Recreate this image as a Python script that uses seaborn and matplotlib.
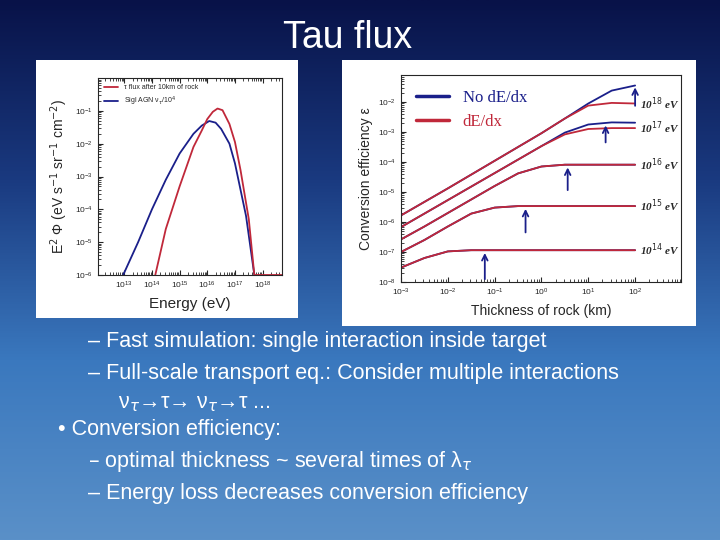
import numpy as np
import pandas as pd
import matplotlib
matplotlib.use("Agg")
import matplotlib.pyplot as plt
import seaborn as sns

sns.set_style("ticks")
plt.rcParams['font.family'] = ['Liberation Sans', 'DejaVu Sans']

# ---- left panel data (log10 E, log10 flux)
red_logE = [14.12, 14.5, 15.0, 15.5, 15.8, 16.0, 16.2, 16.37, 16.55, 16.8, 17.0, 17.2, 17.5, 17.7, 18.7]
red_logF = [-6.0, -4.6, -3.3, -2.1, -1.6, -1.25, -1.03, -0.93, -0.98, -1.4, -1.95, -2.8, -4.3, -6.0, -6.0]
blue_logE = [12.96, 13.5, 14.0, 14.5, 15.0, 15.5, 15.8, 16.07, 16.3, 16.5, 16.8, 17.0, 17.4, 17.7]
blue_logF = [-6.0, -5.0, -4.0, -3.1, -2.3, -1.7, -1.45, -1.31, -1.36, -1.55, -2.0, -2.6, -4.2, -6.0]

# ---- right panel data (log10 thickness km, log10 efficiency)
thick_log = [-3, -2.5, -2, -1.5, -1, -0.5, 0, 0.5, 1, 1.5, 2]
energies = ["14", "15", "16", "17", "18"]
eff_red = {
    "14": [-7.52, -7.2, -6.98, -6.94, -6.94, -6.94, -6.94, -6.94, -6.94, -6.94, -6.94],
    "15": [-7.0, -6.6, -6.15, -5.72, -5.52, -5.47, -5.47, -5.47, -5.47, -5.47, -5.47],
    "16": [-6.58, -6.15, -5.7, -5.25, -4.8, -4.38, -4.15, -4.09, -4.09, -4.09, -4.09],
    "17": [-6.17, -5.72, -5.27, -4.82, -4.37, -3.92, -3.47, -3.08, -2.9, -2.87, -2.87],
    "18": [-5.78, -5.33, -4.88, -4.42, -3.96, -3.5, -3.04, -2.55, -2.12, -2.03, -2.05],
}
eff_blue = {
    "14": eff_red["14"], "15": eff_red["15"], "16": eff_red["16"],
    "17": [-6.17, -5.72, -5.27, -4.82, -4.37, -3.92, -3.47, -3.02, -2.75, -2.68, -2.69],
    "18": [-5.78, -5.33, -4.88, -4.42, -3.96, -3.5, -3.04, -2.55, -2.05, -1.62, -1.45],
}
arrow_x = [-1.21, -0.34, 0.56, 1.37, 2.0]
arrow_y0 = [-8.0, -6.44, -5.03, -3.44, -2.22]
arrow_y1 = [-6.94, -5.47, -4.09, -2.69, -1.42]

W, H = 720, 540
fig = plt.figure(figsize=(7.2, 5.4), dpi=100)

def rect(l, t, r, b):
    return [l / W, 1 - b / H, (r - l) / W, (b - t) / H]

bg = fig.add_axes([0, 0, 1, 1])
grad = np.linspace(0, 1, 256)[:, None]
cmap = matplotlib.colors.LinearSegmentedColormap.from_list("bg", ["#081248", "#1a3a80", "#3a78be", "#5a90c8"])
bg.imshow(grad, aspect="auto", cmap=cmap, extent=[0, 1, 0, 1], origin="upper")
bg.axis("off")

fig.text(348 / W, 1 - 38 / H, "Tau flux", color="white", fontsize=27, ha="center", va="center")

for r in [rect(36, 60, 298, 318), rect(342, 60, 696, 326)]:
    p = fig.add_axes(r)
    p.set_facecolor("white")
    p.set_xticks([]); p.set_yticks([])
    for s in p.spines.values():
        s.set_visible(False)

ax1 = fig.add_axes(rect(98, 78, 282, 275))
ax1.set_facecolor("white")
dl = pd.DataFrame({"E": 10 ** np.array(red_logE), "F": 10 ** np.array(red_logF)})
db = pd.DataFrame({"E": 10 ** np.array(blue_logE), "F": 10 ** np.array(blue_logF)})
sns.lineplot(data=db, x="E", y="F", ax=ax1, color="#1a1f8a", lw=1.3, label="Sigl AGN ν$_τ$/10$^4$")
sns.lineplot(data=dl, x="E", y="F", ax=ax1, color="#c0283a", lw=1.3, label="τ flux after 10km of rock")
ax1.set_xscale("log"); ax1.set_yscale("log")
ax1.set_xlim(10 ** 12.05, 10 ** 18.7)
ax1.set_ylim(1e-6, 10 ** 0.0)
ax1.set_xticks([10.0 ** k for k in range(13, 19)])
ax1.set_yticks([10.0 ** k for k in range(-6, 0)])
ax1.tick_params(labelsize=6, direction="in", which="both", top=True, right=False)
ax1.set_xlabel("Energy (eV)", fontsize=11)
ax1.set_ylabel("E$^2$ Φ (eV s$^{-1}$ sr$^{-1}$ cm$^{-2}$)", fontsize=10)
h, l = ax1.get_legend_handles_labels()
ax1.legend(h[::-1], l[::-1], loc="upper left", fontsize=5, frameon=False)

ax2 = fig.add_axes(rect(401, 75, 681, 282))
ax2.set_facecolor("white")
for e in energies:
    d = pd.DataFrame({"x": 10 ** np.array(thick_log, float), "y": 10 ** np.array(eff_blue[e])})
    sns.lineplot(data=d, x="x", y="y", ax=ax2, color="#1a1f8a", lw=1.3)
for e in energies:
    d = pd.DataFrame({"x": 10 ** np.array(thick_log, float), "y": 10 ** np.array(eff_red[e])})
    sns.lineplot(data=d, x="x", y="y", ax=ax2, color="#c0283a", lw=1.3)
    ax2.text(10 ** 2.1, 10 ** eff_red[e][-1], f"10$^{{{e}}}$ eV", fontsize=8, style="italic",
             weight="bold", family="Liberation Serif", va="center", ha="left")
for xa, y0, y1 in zip(arrow_x, arrow_y0, arrow_y1):
    ax2.annotate("", xy=(10 ** xa, 10 ** y1), xytext=(10 ** xa, 10 ** y0),
                 arrowprops=dict(arrowstyle="->", color="#1a1f8a", lw=1.3))
ax2.plot([], [], color="#1a1f8a", lw=2.5, label="No dE/dx")
ax2.plot([], [], color="#c0283a", lw=2.5, label="dE/dx")
leg = ax2.legend(loc="upper left", frameon=False, prop={"family": "Liberation Serif", "size": 12})
for t, c in zip(leg.get_texts(), ["#1a1f8a", "#c0283a"]):
    t.set_color(c)
ax2.set_xscale("log"); ax2.set_yscale("log")
ax2.set_xlim(1e-3, 10 ** 2.98)
ax2.set_ylim(1e-8, 10 ** -1.1)
ax2.set_xticks([10.0 ** k for k in range(-3, 3)])
ax2.set_yticks([10.0 ** k for k in range(-8, -1)])
ax2.tick_params(labelsize=6, direction="in", which="both")
ax2.set_xlabel("Thickness of rock (km)", fontsize=10)
ax2.set_ylabel("Conversion efficiency ε", fontsize=10)

lines = [
    (88, 341, "– Fast simulation: single interaction inside target"),
    (88, 373, "– Full-scale transport eq.: Consider multiple interactions"),
    (118, 403, "ν$_τ$→τ→ ν$_τ$→τ ..."),
    (58, 430, "• Conversion efficiency:"),
    (88, 462, "– optimal thickness ~ several times of λ$_τ$"),
    (88, 493, "– Energy loss decreases conversion efficiency"),
]
for x, y, s in lines:
    fig.text(x / W, 1 - y / H, s, color="white", fontsize=15.5, ha="left", va="center")

fig.savefig("out.png", dpi=100)
